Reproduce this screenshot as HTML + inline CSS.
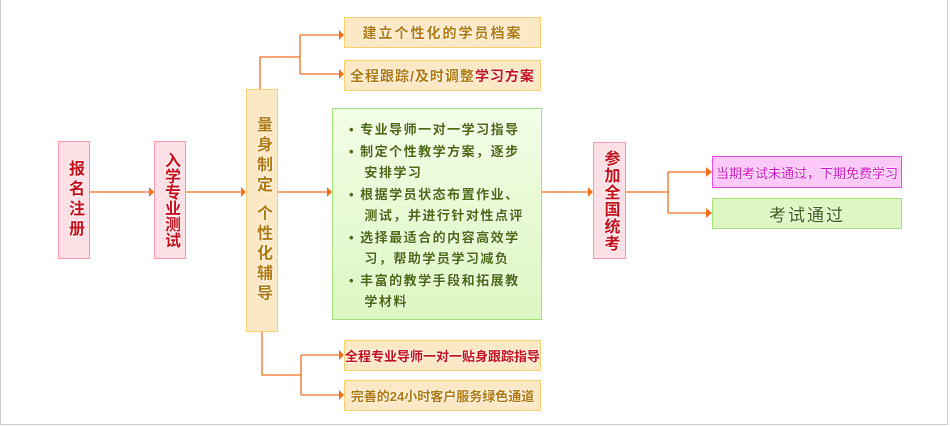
<!DOCTYPE html>
<html><head><meta charset="utf-8"><style>
body{margin:0;width:950px;height:427px;background:#fff;position:relative;overflow:hidden;font-family:"Liberation Sans","Noto Sans CJK SC",sans-serif;}
.frame{position:absolute;left:0;top:0;width:946px;height:424px;border:1px solid #ccc;border-top:none}
.b{position:absolute;box-sizing:border-box;font-weight:bold;text-shadow:0 0 2px #fff,0 0 2px #fff;display:flex;align-items:center;justify-content:center;text-align:center;white-space:nowrap}
.pk{background:#fde0e6;border:1px solid #f29aa8;color:#c4101c;font-size:16px;line-height:22px;writing-mode:vertical-rl;letter-spacing:2px}
.or{background:#fde8c6;border:1px solid #f8d070;color:#b07a10;font-size:14px}
svg{position:absolute;left:0;top:0}
</style></head><body>
<div class="frame"></div>
<svg width="950" height="427">
<g stroke="#f07020" stroke-width="1.3" fill="none">
<path d="M90 192H149M186 192H241M278 192H327M542 192H588M626 192H668M668 172V213M668 172H706M668 213H706"/>
<path d="M260 89V57H300M300 35V74M300 35H339M300 74H339"/>
<path d="M262 332V375H301M301 355V395M301 355H339M301 395H339"/>
</g>
<g fill="#f07020">
<path d="M149 187L154 192L149 197Z"/><path d="M241 187L246 192L241 197Z"/><path d="M327 187L332 192L327 197Z"/><path d="M588 187L593 192L588 197Z"/>
<path d="M706 167L712 172L706 177Z"/><path d="M706 208L712 213L706 218Z"/>
<path d="M339 30L344 35L339 40Z"/><path d="M339 69L344 74L339 79Z"/><path d="M339 350L344 355L339 360Z"/><path d="M339 390L344 395L339 400Z"/>
</g>
</svg>
<div class="b pk" style="left:58px;top:141px;width:32px;height:118px;letter-spacing:4px">报名注册</div>
<div class="b pk" style="left:154px;top:141px;width:32px;height:118px;letter-spacing:0">入学专业测试</div>
<div class="b or" style="left:246px;top:89px;width:32px;height:243px;font-size:16px;writing-mode:vertical-rl;line-height:22px;letter-spacing:4px">量身制定&nbsp;个性化辅导</div>
<div class="b or" style="left:344px;top:17px;width:197px;height:31px;letter-spacing:2px">建立个性化的学员档案</div>
<div class="b or" style="left:344px;top:60px;width:197px;height:31px;letter-spacing:1px">全程跟踪/及时调整<span style="color:#c4101c">学习方案</span></div>
<div class="b" style="left:332px;top:108px;width:210px;height:212px;background:linear-gradient(#f2fde6,#dcf7c2);border:1px solid #a6e07a;color:#4a6a10;font-size:13px;line-height:21.5px;display:block;text-align:left;padding:10px 6px 0 16px;letter-spacing:1.5px">
<div>• 专业导师一对一学习指导</div>
<div>• 制定个性教学方案，逐步<br>&nbsp;&nbsp;&nbsp;安排学习</div>
<div>• 根据学员状态布置作业、<br>&nbsp;&nbsp;&nbsp;测试，并进行针对性点评</div>
<div>• 选择最适合的内容高效学<br>&nbsp;&nbsp;&nbsp;习，帮助学员学习减负</div>
<div>• 丰富的教学手段和拓展教<br>&nbsp;&nbsp;&nbsp;学材料</div>
</div>
<div class="b or" style="left:344px;top:340px;width:197px;height:31px;color:#c4101c;font-size:13px">全程专业导师一对一贴身跟踪指导</div>
<div class="b or" style="left:344px;top:380px;width:197px;height:31px;font-size:13px">完善的24小时客户服务绿色通道</div>
<div class="b pk" style="left:593px;top:142px;width:33px;height:117px;letter-spacing:1px">参加全国统考</div>
<div class="b" style="left:712px;top:156px;width:190px;height:32px;background:#fcc8f8;border:1px solid #e050e0;color:#d010c8;font-size:13px;font-weight:normal">当期考试未通过，下期免费学习</div>
<div class="b" style="left:712px;top:198px;width:190px;height:31px;background:#dcf7c2;border:1px solid #a6e07a;color:#3a6010;font-size:17px;font-weight:normal;letter-spacing:2px">考试通过</div>
</body></html>
